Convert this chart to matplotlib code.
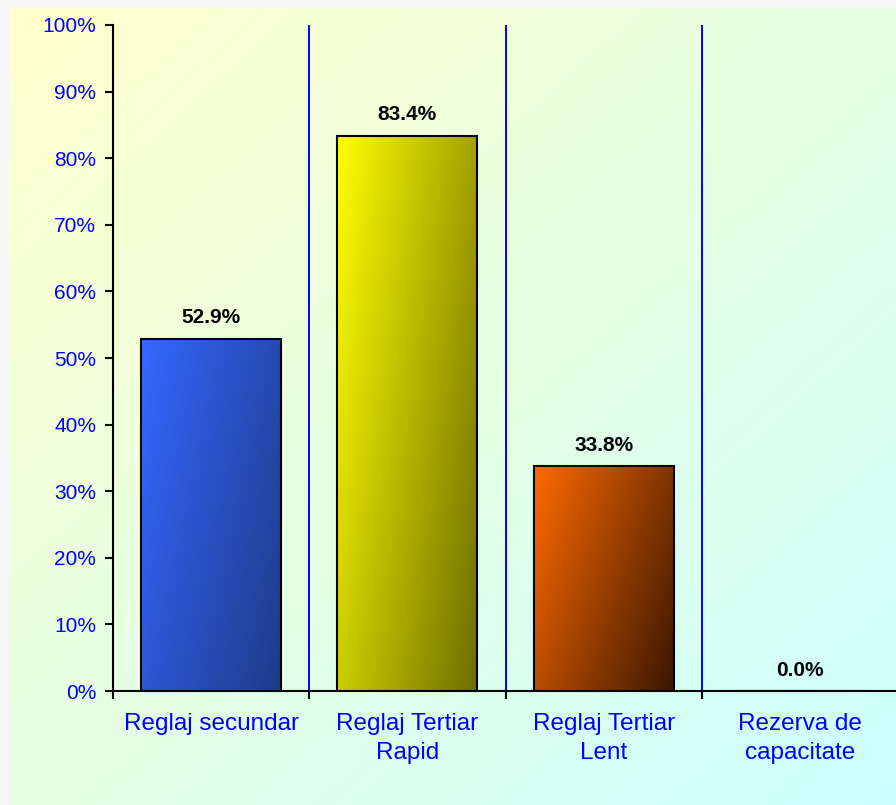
import numpy as np
import matplotlib.pyplot as plt
from matplotlib.colors import LinearSegmentedColormap

plt.rcParams["font.family"] = ["Liberation Sans", "DejaVu Sans"]

categories = ["Reglaj secundar", "Reglaj Tertiar\nRapid", "Reglaj Tertiar\nLent", "Rezerva de\ncapacitate"]
values = [52.9, 83.4, 33.8, 0.0]
value_labels = ["52.9%", "83.4%", "33.8%", "0.0%"]
yticks = [0, 10, 20, 30, 40, 50, 60, 70, 80, 90, 100]
ytick_labels = [f"{t}%" for t in yticks]

bar_colors = [("#3468FF", "#1E3A88"), ("#FFFF00", "#6E6E00"), ("#FF6A00", "#3A1600")]

BLUE = "#0000FF"

fig = plt.figure(figsize=(8.96, 8.05), dpi=100)
fig.patch.set_facecolor("#F6F6F6")

# gradient panel behind the chart
bg = fig.add_axes([9 / 896, 0, 1 - 9 / 896, 1 - 8 / 805], zorder=0)
gx, gy = np.meshgrid(np.linspace(0, 1, 300), np.linspace(0, 1, 300))
grad = (gx + gy) / 2
bg_cmap = LinearSegmentedColormap.from_list("bg", ["#FFFFCC", "#E6FFE4", "#CCFFFF"])
bg.imshow(grad, cmap=bg_cmap, aspect="auto", extent=[0, 1, 1, 0], interpolation="bilinear")
bg.set_axis_off()

ax = fig.add_axes([113 / 896, 114 / 805, 785 / 896, 666 / 805], zorder=1)
ax.patch.set_visible(False)

x = np.arange(len(categories))
bars = ax.bar(x, values, width=0.714, color="none", edgecolor="black", linewidth=1.5, zorder=3)

for b, (c0, c1) in zip(bars, bar_colors):
    x0, y0 = b.get_x(), b.get_y()
    w, h = b.get_width(), b.get_height()
    if h <= 0:
        continue
    cmap = LinearSegmentedColormap.from_list("bar", [c0, c1])
    gx, gy = np.meshgrid(np.linspace(0, 1, 100), np.linspace(0, 1, 200))
    g = 0.65 * gx + 0.35 * (1 - gy)  # bright top-left, dark bottom-right
    im = ax.imshow(g, cmap=cmap, aspect="auto", origin="lower",
                   extent=[x0, x0 + w, y0, y0 + h],
                   interpolation="bilinear", zorder=2)
    im.set_clip_path(b)

for xi, v, lab in zip(x, values, value_labels):
    ax.annotate(lab, (xi, v), xytext=(0, 15), textcoords="offset points",
                ha="center", va="center", fontsize=15, fontweight="bold", color="black")

# category separators
for sep in x + 0.5:
    ax.axvline(sep, color=BLUE, lw=1.4, zorder=1)

ax.set_xlim(-0.5, len(categories) - 0.5)
ax.set_ylim(0, 100)
ax.set_yticks(yticks)
ax.set_yticklabels(ytick_labels, color=BLUE, fontsize=15)
ax.set_xticks(x - 0.5)
ax.set_xticklabels([])
ax.set_xticks(x, minor=True)
ax.set_xticklabels(categories, minor=True, color=BLUE, fontsize=17.5, linespacing=1.4)
ax.tick_params(axis="x", which="minor", length=0, pad=16)
ax.tick_params(axis="x", which="major", length=6, width=1.5, direction="out")
ax.tick_params(axis="y", length=6, width=1.5, direction="out", pad=6)
ax.spines[["top", "right"]].set_visible(False)
ax.spines[["left", "bottom"]].set_linewidth(1.5)

fig.savefig("out.png", dpi=100)
